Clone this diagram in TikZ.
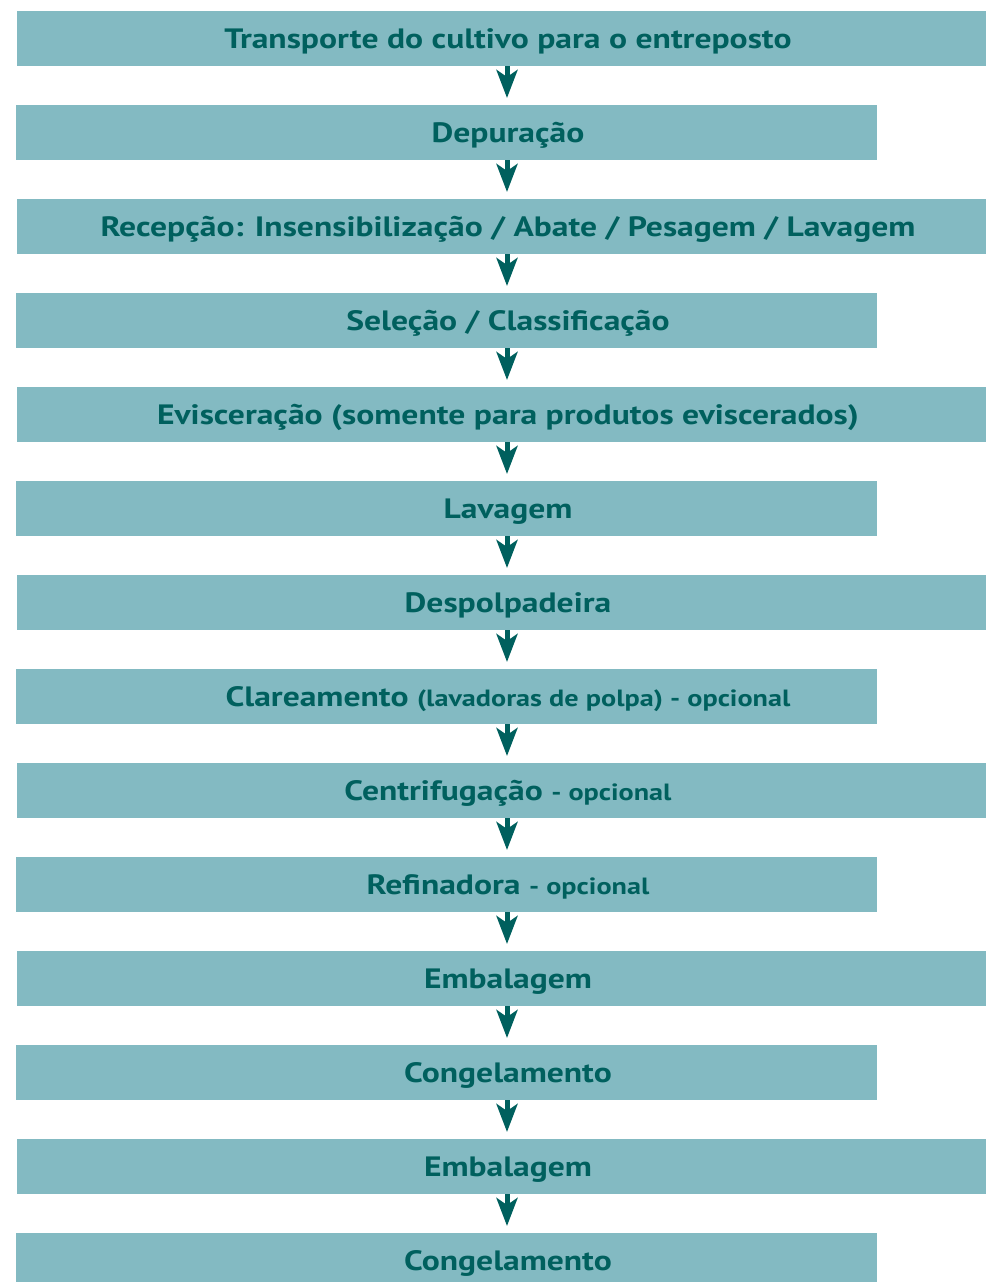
\documentclass[tikz,border=0pt]{standalone}
\usepackage{fontspec}
\setmainfont{PT Sans}[FakeStretch=1.2]
\usetikzlibrary{arrows.meta}
\definecolor{boxfill}{HTML}{83BAC2}
\definecolor{ink}{HTML}{00605E}
\tikzset{
  widebox/.style={fill=boxfill, draw=none, inner sep=0pt, minimum width=969pt, minimum height=55pt, anchor=north west},
  narrowbox/.style={fill=boxfill, draw=none, inner sep=0pt, minimum width=861pt, minimum height=55pt, anchor=north west},
  lbl/.style={text=ink, font=\bfseries\fontsize{28}{32}\selectfont, inner sep=0pt, anchor=base},
  arr/.style={draw=ink, line width=5pt, -{Stealth[length=28pt,width=21pt,inset=7pt]}, shorten >=7pt},
}
\newcommand{\sm}[1]{{\fontsize{23.5}{27}\selectfont #1}}
\begin{document}
\begin{tikzpicture}[x=1pt,y=-1pt]
\useasboundingbox (0,0) rectangle (986,1282);
\clip (0,0) rectangle (986,1282);
\node[widebox]   (b1)  at (17,11)   {};
\node[narrowbox] (b2)  at (16,105)  {};
\node[widebox]   (b3)  at (17,199)  {};
\node[narrowbox] (b4)  at (16,293)  {};
\node[widebox]   (b5)  at (17,387)  {};
\node[narrowbox] (b6)  at (16,481)  {};
\node[widebox]   (b7)  at (17,575)  {};
\node[narrowbox] (b8)  at (16,669)  {};
\node[widebox]   (b9)  at (17,763)  {};
\node[narrowbox] (b10) at (16,857)  {};
\node[widebox]   (b11) at (17,951)  {};
\node[narrowbox] (b12) at (16,1045) {};
\node[widebox]   (b13) at (17,1139) {};
\node[narrowbox] (b14) at (16,1233) {};

\node[lbl] (t1)  at (508,48)   {Transporte do cultivo para o entreposto};
\node[lbl] (t2)  at (508,142)  {Depuração};
\node[lbl] (t3)  at (508,236)  {Recepção: Insensibilização / Abate / Pesagem / Lavagem};
\node[lbl] (t4)  at (508,330)  {Seleção / Classificação};
\node[lbl] (t5)  at (508,424)  {Evisceração (somente para produtos eviscerados)};
\node[lbl] (t6)  at (508,518)  {Lavagem};
\node[lbl] (t7)  at (508,612)  {Despolpadeira};
\node[lbl] (t8)  at (508,706)  {Clareamento \sm{(lavadoras de polpa) - opcional}};
\node[lbl] (t9)  at (508,800)  {Centrifugação \sm{- opcional}};
\node[lbl] (t10) at (508,894)  {Refinadora \sm{- opcional}};
\node[lbl] (t11) at (508,988)  {Embalagem};
\node[lbl] (t12) at (508,1082) {Congelamento};
\node[lbl] (t13) at (508,1176) {Embalagem};
\node[lbl] (t14) at (508,1270) {Congelamento};

\coordinate (ax) at (507,0);
\foreach \i [evaluate=\i as \j using int(\i+1)] in {1,...,13}{
  \draw[arr] (b\i.south -| ax) -- (b\j.north -| ax);
}
\end{tikzpicture}
\end{document}
